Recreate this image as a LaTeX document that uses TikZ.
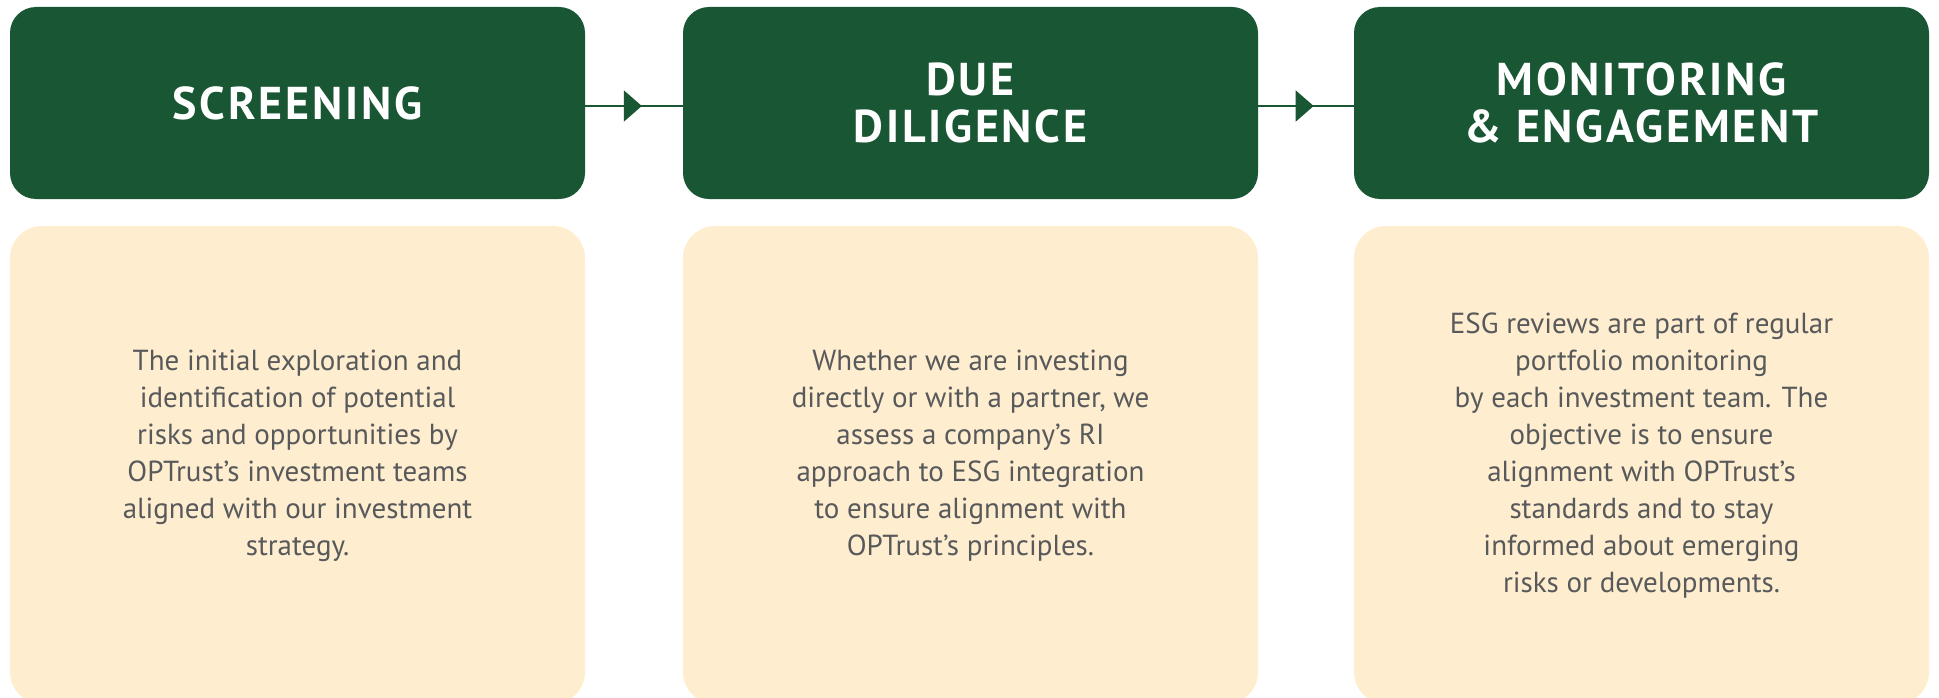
\documentclass[tikz,border=0pt]{standalone}
\usepackage{fontspec}
\setmainfont{PT Sans}
\usetikzlibrary{arrows.meta,decorations.markings,positioning}
\definecolor{optgreen}{HTML}{185634}
\definecolor{optcream}{HTML}{FEEECF}
\definecolor{optgray}{HTML}{58595B}

\begin{document}
\begin{tikzpicture}[x=1pt,y=-1pt]
\tikzstyle{headbox}=[rectangle,rounded corners=26pt,fill=optgreen,minimum width=575pt,minimum height=192pt,inner sep=0pt,text=white,font=\fontsize{46}{47}\selectfont\bfseries\addfontfeatures{LetterSpace=6},align=center]
\tikzstyle{bodybox}=[rectangle,rounded corners=32pt,fill=optcream,minimum width=575pt,minimum height=478pt,inner sep=0pt]
\tikzstyle{bodytext}=[text=optgray,font=\fontsize{29}{37}\selectfont,align=center]
\tikzstyle{flow}=[draw=optgreen,line width=2pt,postaction={decorate},decoration={markings,mark=at position 0.58 with {\arrow{Triangle[length=18pt,width=31pt]}}}]

\clip (0,0) rectangle (1939,698);

%HEADERS
\node[headbox] (screenhead) at (297.5,103) {SCREENING};
\node[headbox] (diligencehead) at (970.5,103) {DUE\\DILIGENCE};
\node[headbox] (monitorhead) at (1641.5,103) {MONITORING\\\& ENGAGEMENT};

%%%%%%%%%%%%%%%%%%%%%%%%%%%%%%%%%%%%%%%%%%%%%%%%%%%%%%%%%%%%%%%%%%%%%%%%
%BODIES
\node[bodybox] (screenbody) at (297.5,465) {};
\node[bodybox] (diligencebody) at (970.5,465) {};
\node[bodybox] (monitorbody) at (1641.5,465) {};

% texts
\node[bodytext] (screentext) at (297.5,456) {The initial exploration and\\identification of potential\\risks and opportunities by\\OPTrust’s investment teams\\aligned with our investment\\strategy.};
\node[bodytext] (diligencetext) at (970.5,456) {Whether we are investing\\directly or with a partner, we\\assess a company’s RI\\approach to ESG integration\\to ensure alignment with\\OPTrust’s principles.};
\node[bodytext] (monitortext) at (1641.5,456) {ESG reviews are part of regular\\portfolio monitoring\\by each investment team. The\\objective is to ensure\\alignment with OPTrust’s\\standards and to stay\\informed about emerging\\risks or developments.};

%%%%%%%%%%%%%%%%%%%%%%%%%%%%%%%%%%%%%%%%%%%%%%%%%%%%%%%%%%%%%%%%%%%%%%%%
%ARROWS
\draw[flow] ([yshift=-3pt]screenhead.east) -- ([yshift=-3pt]diligencehead.west);
\draw[flow] ([yshift=-3pt]diligencehead.east) -- ([yshift=-3pt]monitorhead.west);

\end{tikzpicture}
\end{document}
